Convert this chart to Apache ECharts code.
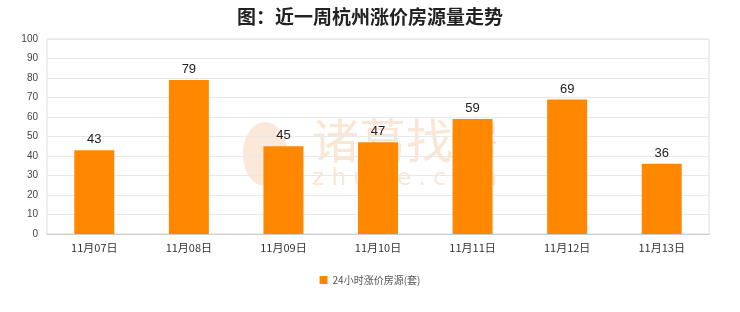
<!DOCTYPE html>
<html><head><meta charset="utf-8">
<script src="https://cdn.jsdelivr.net/npm/echarts@6/dist/echarts.min.js"></script>
<style>html,body{margin:0;padding:0;background:#fff}#c{width:740px;height:312px}</style>
</head><body><div id="c"></div>
<script>
var categories = ['11月07日','11月08日','11月09日','11月10日','11月11日','11月12日','11月13日'];
var values = [43, 79, 45, 47, 59, 69, 36];
var seriesName = '24小时涨价房源(套)';
var titleText = '图：近一周杭州涨价房源量走势';

var chart = echarts.init(document.getElementById('c'));
chart.setOption({
  backgroundColor: '#fff',
  animation: false,
  title: {
    text: titleText, left: 'center', top: 2,
    textStyle: {fontSize: 19, fontWeight: 'bold', color: '#222', fontFamily: 'Noto Sans CJK SC'}
  },
  graphic: [
    {type: 'ellipse', left: 243, top: 122, z: 0, silent: true,
     shape: {cx: 0, cy: 0, rx: 22, ry: 32},
     style: {fill: 'rgba(246,205,170,0.45)'}},
    {type: 'text', left: 312, top: 117, z: 0, silent: true,
     style: {text: '诸葛找房', fontSize: 47, fill: 'rgba(246,205,170,0.5)', fontFamily: 'Noto Sans CJK SC'}},
    {type: 'text', left: 312, top: 168, z: 0, silent: true,
     style: {text: 'z h u g e . c o m', fontSize: 23, fill: 'rgba(246,205,170,0.5)', fontFamily: 'DejaVu Sans'}}
  ],
  legend: {
    bottom: 22, left: 'center', itemWidth: 8, itemHeight: 8, icon: 'rect',
    textStyle: {fontSize: 10, color: '#555', fontFamily: 'Noto Sans CJK SC'},
    data: [seriesName]
  },
  grid: {left: 47, right: 31, top: 39, bottom: 78, show: true, borderColor: '#ddd', borderWidth: 1},
  xAxis: {
    type: 'category', data: categories,
    axisLine: {lineStyle: {color: '#ccc'}},
    axisTick: {show: false},
    axisLabel: {fontSize: 11, color: '#333', margin: 8, fontFamily: 'Noto Sans CJK SC'}
  },
  yAxis: {
    type: 'value', min: 0, max: 100, interval: 10,
    axisLine: {show: false}, axisTick: {show: false},
    axisLabel: {fontSize: 10, color: '#444', margin: 9},
    splitLine: {lineStyle: {color: '#e8e8e8'}}
  },
  series: [{
    name: seriesName, type: 'bar', data: values, barWidth: 40, z: 5,
    itemStyle: {color: '#ff8800'},
    label: {show: true, position: 'top', fontSize: 13, color: '#222', distance: 4}
  }]
});
</script></body></html>
